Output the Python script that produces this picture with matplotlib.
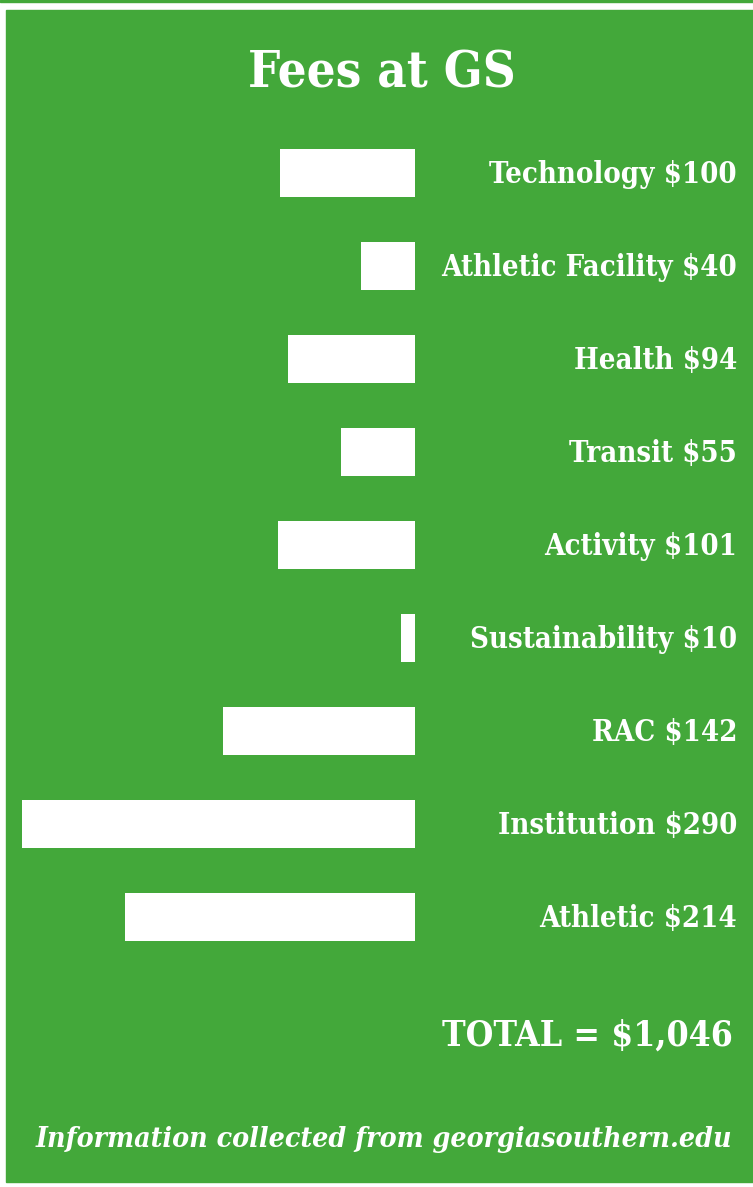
import matplotlib.pyplot as plt
from matplotlib.patches import Rectangle
from matplotlib.transforms import blended_transform_factory

# fee categories and yearly amounts in dollars
fees = ["Technology", "Athletic Facility", "Health", "Transit", "Activity",
        "Sustainability", "RAC", "Institution", "Athletic"]
amounts = [100, 40, 94, 55, 101, 10, 142, 290, 214]
total = 1046
source = "Information collected from georgiasouthern.edu"

green = "#43a83a"
W, H = 753, 1187

plt.rcParams["font.family"] = ["DejaVu Serif", "DejaVu Sans"]
fig = plt.figure(figsize=(W / 100, H / 100), dpi=100)
fig.patch.set_facecolor("white")

# green panel with a thin rule above it
fig.patches.append(Rectangle((0, 1 - 2 / H), 1, 2 / H, transform=fig.transFigure,
                             color=green, zorder=-5))
fig.patches.append(Rectangle((6 / W, 5 / H), 1 - 6 / W, (1182 - 10) / H,
                             transform=fig.transFigure, color=green, zorder=-5))

ax = fig.add_axes([6 / W, (H - 963.5) / H, (415 - 6) / W, 837 / H])
ax.set_facecolor("none")
rows = range(len(fees))
ax.barh(rows, [-a for a in amounts], height=0.51, color="white", edgecolor="none")
ax.set_xlim(-302, 0)
ax.set_ylim(len(fees) - 0.5, -0.5)
ax.axis("off")

txt = dict(color="white", weight="bold", fontstretch="condensed")
trans = blended_transform_factory(fig.transFigure, ax.transData)
for i, (name, amt) in enumerate(zip(fees, amounts)):
    ax.annotate(f"{name} ${amt}", xy=(737 / W, i), xycoords=trans,
                xytext=(0, -10), textcoords="offset pixels",
                ha="right", va="baseline", size=21, annotation_clip=False, **txt)

fig.text(382 / W, 1 - 88 / H, "Fees at GS", ha="center", va="baseline",
         size=36.5, **txt)
fig.text(733 / W, 1 - 1046 / H, f"TOTAL = ${total:,}", ha="right",
         va="baseline", size=25.5, **txt)
fig.text(384 / W, 1 - 1147 / H, source, ha="center", va="baseline",
         size=20.4, style="italic", **txt)

fig.savefig("out.png", dpi=100, facecolor=fig.get_facecolor())
